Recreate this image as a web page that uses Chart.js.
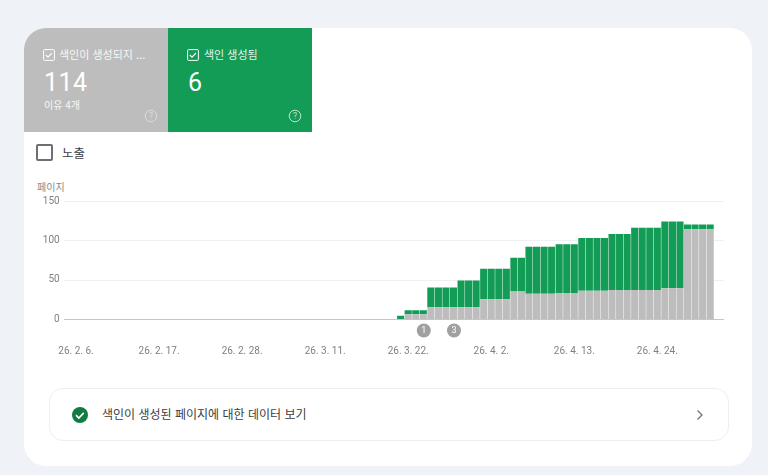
<!DOCTYPE html>
<html lang="ko">
<head>
<meta charset="utf-8">
<title>페이지 색인 생성</title>
<script src="https://cdn.jsdelivr.net/npm/chart.js@4"></script>
<style>
  * { box-sizing: border-box; }
  html, body { margin: 0; padding: 0; width: 768px; height: 475px; overflow: hidden; background: #eff3f8; font-family: Roboto, "Noto Sans CJK KR", sans-serif; }
  .panel { position: absolute; left: 24px; top: 28px; width: 728px; height: 438px; background: #fff; border-radius: 22px; }
  .tile { position: absolute; top: 28px; width: 144px; height: 104px; color: #fff; }
  .tile.gray { left: 24px; background: #bdbdbd; border-top-left-radius: 22px; }
  .tile.green { left: 168px; background: #129c56; }
  .tile .name { position: absolute; left: 35px; top: 18px; font-size: 11px; line-height: 16px; white-space: nowrap; opacity: .9; font-family: "Noto Sans CJK KR", sans-serif; }
  .tile.green .name { left: 36px; }
  .tile svg.check { position: absolute; left: 19px; top: 21px; }
  .tile .num { position: absolute; left: 20px; top: 39px; font-size: 25px; line-height: 32px; letter-spacing: .5px; }
  .tile .sub { position: absolute; left: 20px; top: 70px; font-size: 10px; line-height: 14px; opacity: .9; font-family: "Noto Sans CJK KR", sans-serif; }
  .tile svg.help { position: absolute; left: 120px; top: 81px; }
  .metric { position: absolute; left: 36px; top: 144px; width: 17px; height: 17px; border: 2px solid #6f6f6f; border-radius: 2px; }
  .metric-name { position: absolute; left: 62px; top: 144px; font-size: 12.5px; line-height: 18px; color: #3c4043; font-family: "Noto Sans CJK KR", sans-serif; }
  .axis-name { position: absolute; left: 37px; top: 180px; font-size: 10px; line-height: 13px; color: #8a8a8a; font-family: "Noto Sans CJK KR", sans-serif; }
  .chart-box { position: absolute; left: 0; top: 190px; width: 768px; height: 175px; }
  .link { position: absolute; left: 49px; top: 388px; width: 680px; height: 53px; border: 1px solid #eceef0; border-radius: 14px; background: #fff; }
  .link svg.ok { position: absolute; left: 21px; top: 17px; }
  .link .text { position: absolute; left: 52px; top: 15px; font-size: 12px; line-height: 20px; color: #3c4043; font-family: "Noto Sans CJK KR", sans-serif; }
  .link svg.arrow { position: absolute; left: 644px; top: 20px; }
</style>
</head>
<body>
<div class="panel"></div>

<div class="tile gray">
  <svg class="check" width="12" height="12" viewBox="0 0 12 12"><rect x=".6" y=".6" width="10.8" height="10.8" rx="1" fill="none" stroke="#fff" stroke-width="1"/><path d="M2.8 6l2.2 2.2 4-4.2" fill="none" stroke="#fff" stroke-width="1.1"/></svg>
  <div class="name">색인이 생성되지 ...</div>
  <div class="num">114</div>
  <div class="sub">이유 4개</div>
  <svg class="help" width="14" height="14" viewBox="0 0 14 14"><circle cx="7" cy="7" r="5.8" fill="none" stroke="#dcdcdc" stroke-width="1"/><text x="7" y="10" font-size="8.5" text-anchor="middle" fill="#dcdcdc" font-family="Roboto">?</text></svg>
</div>
<div class="tile green">
  <svg class="check" width="12" height="12" viewBox="0 0 12 12"><rect x=".6" y=".6" width="10.8" height="10.8" rx="1" fill="none" stroke="#fff" stroke-width="1"/><path d="M2.8 6l2.2 2.2 4-4.2" fill="none" stroke="#fff" stroke-width="1.1"/></svg>
  <div class="name">색인 생성됨</div>
  <div class="num">6</div>
  <svg class="help" width="14" height="14" viewBox="0 0 14 14"><circle cx="7" cy="7" r="5.8" fill="none" stroke="#bfe3cf" stroke-width="1"/><text x="7" y="10" font-size="8.5" text-anchor="middle" fill="#bfe3cf" font-family="Roboto">?</text></svg>
</div>

<div class="metric"></div>
<div class="metric-name">노출</div>
<div class="axis-name">페이지</div>

<div class="chart-box"><canvas id="indexChart"></canvas></div>

<div class="link">
  <svg class="ok" width="18" height="18" viewBox="0 0 18 18"><circle cx="9" cy="9" r="8" fill="#137a43"/><path d="M5 9.2l2.8 2.8 5-5.2" fill="none" stroke="#fff" stroke-width="1.7"/></svg>
  <div class="text">색인이 생성된 페이지에 대한 데이터 보기</div>
  <svg class="arrow" width="12" height="12" viewBox="0 0 12 12"><path d="M3.5 1.5L8 6l-4.5 4.5" fill="none" stroke="#6f7377" stroke-width="1.3"/></svg>
</div>

<script>
// Chart data
const days = [
  "26. 2. 5.", "26. 2. 6.", "26. 2. 7.", "26. 2. 8.", "26. 2. 9.", "26. 2. 10.", "26. 2. 11.", "26. 2. 12.",
  "26. 2. 13.", "26. 2. 14.", "26. 2. 15.", "26. 2. 16.", "26. 2. 17.", "26. 2. 18.", "26. 2. 19.", "26. 2. 20.",
  "26. 2. 21.", "26. 2. 22.", "26. 2. 23.", "26. 2. 24.", "26. 2. 25.", "26. 2. 26.", "26. 2. 27.", "26. 2. 28.",
  "26. 3. 1.", "26. 3. 2.", "26. 3. 3.", "26. 3. 4.", "26. 3. 5.", "26. 3. 6.", "26. 3. 7.", "26. 3. 8.",
  "26. 3. 9.", "26. 3. 10.", "26. 3. 11.", "26. 3. 12.", "26. 3. 13.", "26. 3. 14.", "26. 3. 15.", "26. 3. 16.",
  "26. 3. 17.", "26. 3. 18.", "26. 3. 19.", "26. 3. 20.", "26. 3. 21.", "26. 3. 22.", "26. 3. 23.", "26. 3. 24.",
  "26. 3. 25.", "26. 3. 26.", "26. 3. 27.", "26. 3. 28.", "26. 3. 29.", "26. 3. 30.", "26. 3. 31.", "26. 4. 1.",
  "26. 4. 2.", "26. 4. 3.", "26. 4. 4.", "26. 4. 5.", "26. 4. 6.", "26. 4. 7.", "26. 4. 8.", "26. 4. 9.",
  "26. 4. 10.", "26. 4. 11.", "26. 4. 12.", "26. 4. 13.", "26. 4. 14.", "26. 4. 15.", "26. 4. 16.", "26. 4. 17.",
  "26. 4. 18.", "26. 4. 19.", "26. 4. 20.", "26. 4. 21.", "26. 4. 22.", "26. 4. 23.", "26. 4. 24.", "26. 4. 25.",
  "26. 4. 26.", "26. 4. 27.", "26. 4. 28.", "26. 4. 29.", "26. 4. 30.", "26. 5. 1.", "26. 5. 2."
]
const notIndexed = [
  0, 0, 0, 0, 0, 0, 0, 0, 0, 0, 0, 0, 0, 0, 0, 0, 0, 0, 0, 0, 0, 0,
  0, 0, 0, 0, 0, 0, 0, 0, 0, 0, 0, 0, 0, 0, 0, 0, 0, 0, 0, 0, 0, 0,
  0, 6, 6, 6, 15, 15, 15, 15, 15, 15, 15, 25, 25, 25, 25, 35, 35,
  32, 32, 32, 32, 33, 33, 33, 36, 36, 36, 36, 37, 37, 37, 37, 37, 37, 37,
  39, 39, 39, 114, 114, 114, 114, 0
]
const indexed = [
  0, 0, 0, 0, 0, 0, 0, 0, 0, 0, 0, 0, 0, 0, 0, 0, 0, 0, 0, 0, 0, 0,
  0, 0, 0, 0, 0, 0, 0, 0, 0, 0, 0, 0, 0, 0, 0, 0, 0, 0, 0, 0, 0, 0,
  4, 5, 5, 5, 25, 25, 25, 25, 34, 34, 34, 39, 39, 39, 39, 43, 43,
  60, 60, 60, 60, 62, 62, 62, 67, 67, 67, 67, 71, 71, 71, 79, 79, 79, 79,
  85, 85, 85, 6, 6, 6, 6, 0
]
const tickLabels = ["26. 2. 6.", "26. 2. 17.", "26. 2. 28.", "26. 3. 11.", "26. 3. 22.", "26. 4. 2.", "26. 4. 13.", "26. 4. 24."]
const yTicks = [0, 50, 100, 150]
const markerDays = ["26. 3. 24.", "26. 3. 28."]
const markerLabels = ["1", "3"]

// Grid lines run a little past the last bar slot, and the round markers sit under the axis
const overlayPlugin = {
  id: "overlay",
  beforeDatasetsDraw(chart) {
    const c = chart.ctx
    const y = chart.scales.y
    yTicks.forEach((v) => {
      const py = Math.round(y.getPixelForValue(v)) + 0.5
      c.strokeStyle = v === 0 ? "#c4c6c9" : "#eff0f2"
      c.lineWidth = 1
      c.beginPath()
      c.moveTo(64, py)
      c.lineTo(724, py)
      c.stroke()
    })
  },
  afterDraw(chart) {
    const c = chart.ctx
    const x = chart.scales.x
    const py = chart.scales.y.getPixelForValue(0) + 11.5
    markerDays.forEach((d, i) => {
      const px = x.getPixelForValue(d) + 0.5
      c.fillStyle = "#a0a0a0"
      c.beginPath()
      c.arc(px, py, 7, 0, Math.PI * 2)
      c.fill()
      c.fillStyle = "#fff"
      c.font = "9px Roboto"
      c.textAlign = "center"
      c.textBaseline = "middle"
      c.fillText(markerLabels[i], px, py + 0.5)
    })
  },
}

var ctx = document.getElementById("indexChart").getContext("2d")
var indexChart = new Chart(ctx, {
  type: "bar",
  data: {
    labels: days,
    datasets: [
      {
        label: "색인이 생성되지 않음",
        backgroundColor: "#bdbdbd",
        data: notIndexed,
        barPercentage: 0.94,
        categoryPercentage: 1,
      },
      {
        label: "색인 생성됨",
        backgroundColor: "#129c56",
        data: indexed,
        barPercentage: 0.94,
        categoryPercentage: 1,
      },
    ],
  },
  options: {
    responsive: true,
    maintainAspectRatio: false,
    animation: false,
    layout: { padding: { top: 11, right: 46.5, bottom: 0, left: 0 } },
    plugins: { legend: { display: false }, tooltip: { enabled: false } },
    scales: {
      x: {
        stacked: true,
        grid: { display: false },
        border: { display: false },
        ticks: {
          autoSkip: false,
          maxRotation: 0,
          minRotation: 0,
          padding: 18,
          color: "#808080",
          font: { family: "Roboto", size: 10 },
          callback: function (value) {
            const label = this.getLabelForValue(value)
            return tickLabels.includes(label) ? label : null
          },
        },
        afterFit: function (scale) {
          scale.height = 46
        },
      },
      y: {
        stacked: true,
        min: 0,
        max: 150,
        grid: { display: false, drawTicks: false },
        border: { display: false },
        afterBuildTicks: function (scale) {
          scale.ticks = yTicks.map((v) => ({ value: v }))
        },
        ticks: {
          padding: 5,
          color: "#808080",
          font: { family: "Roboto", size: 10 },
        },
        afterFit: function (scale) {
          scale.width = 64.7
        },
      },
    },
  },
  plugins: [overlayPlugin],
})
</script>
</body>
</html>
